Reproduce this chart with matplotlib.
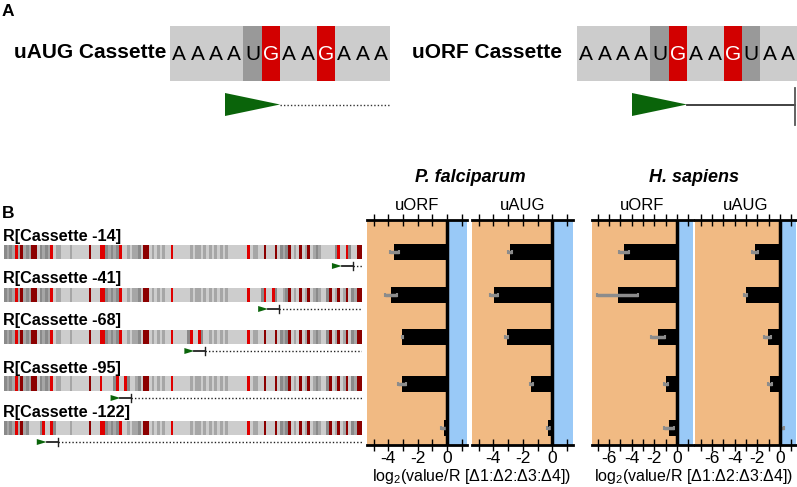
import matplotlib
matplotlib.use('Agg')
import matplotlib.pyplot as plt
import numpy as np
from matplotlib.colors import ListedColormap

plt.rcParams['font.family'] = ['Liberation Sans', 'DejaVu Sans']
plt.rcParams['axes.unicode_minus'] = False
plt.rcParams['mathtext.fontset'] = 'custom'
plt.rcParams['mathtext.rm'] = 'Liberation Sans'

W, H = 797, 487
ORANGE = '#F1BA83'; SKY = '#99C9F7'; GREEN = '#0A640A'; ERR = '#8C8C8C'

# --- panel A data
uaug_seq = 'AAAAUGAAGAAA'
uorf_seq = 'AAAAUGAAGUAA'
nt_colors = {'A': '#CCCCCC', 'U': '#999999', 'G': '#D20000'}

# --- panel B data
row_labels = ['R[Cassette -14]', 'R[Cassette -41]', 'R[Cassette -68]',
              'R[Cassette -95]', 'R[Cassette -122]']
cassette_offsets = [-14, -41, -68, -95, -122]
# native 5'UTR, one code per nt: 0 light grey, 1 mid grey, 2 dark grey, 3 red, 4 dark red
native_codes = ('2121314121' '4402121301' '1000100000' '0400033212' '1230010112'
                '0440101010' '0300000010' '1101010101' '0100000003' '0110040004'
                '0212401040' '1401210024' '0140140214' '4')
cassette_codes = '000023003200'   # AAAAUGAAGUAA
seq_colors = ['#CDCDCD', '#A6A6A6', '#8A8A8A', '#E00000', '#8C0000']

pf_uorf = [-3.6, -3.8, -3.05, -3.07, -0.23]
pf_uorf_err = [0.3, 0.4, 0.05, 0.25, 0.2]
pf_uaug = [-2.87, -3.95, -3.1, -1.42, -0.27]
pf_uaug_err = [0.15, 0.25, 0.12, 0.08, 0.1]
hs_uorf = [-4.7, -5.25, -1.71, -0.97, -0.74]
hs_uorf_err = [0.45, 1.8, 0.6, 0.2, 0.45]
hs_uaug = [-2.2, -3.03, -1.09, -0.88, 0.15]
hs_uaug_err = [0.25, 0.12, 0.3, 0.15, 0.2]

# layout (pixel rows shared by sequences and bars)
row_y = [252, 295, 337, 384, 428]

fig = plt.figure(figsize=(W / 100, H / 100), dpi=100)


def px_axes(x0, y0, x1, y1):
    return fig.add_axes([x0 / W, 1 - y1 / H, (x1 - x0) / W, (y1 - y0) / H])


def ftext(x, y, s, **kw):
    kw.setdefault('va', 'center')
    fig.text(x / W, 1 - y / H, s, **kw)


# ---------------- A
ftext(8, 11, 'A', fontsize=12.5, fontweight='bold', ha='center')
ftext(14, 53, 'uAUG Cassette', fontsize=15, fontweight='bold')
ftext(412, 53, 'uORF Cassette', fontsize=15, fontweight='bold')


def cassette(box, seq):
    ax = px_axes(*box)
    n = len(seq)
    ax.bar(np.arange(n), 55, bottom=26, width=1, align='edge',
           color=[nt_colors[c] for c in seq])
    for i, c in enumerate(seq):
        ax.text(i + 0.5, 54, c, ha='center', va='center', fontsize=15,
                color='white' if c == 'G' else 'black')
    s = seq.find('AUG')
    ax.fill([s, s + 3, s], [93, 104.5, 116], color=GREEN, lw=0)
    stop = seq.find('UAA', s)
    if stop > 0:
        e = stop + 3 - 0.1
        ax.plot([s + 3, e], [104.5, 104.5], color='#333333', lw=1.3)
        ax.plot([e, e], [88, 125], color='#555555', lw=1.3, clip_on=False)
    else:
        ax.plot([s + 3, n], [104.5, 104.5], color='#333333', lw=1, ls=(0, (1, 1.5)))
    ax.set_xlim(0, n); ax.set_ylim(130, 26); ax.axis('off')


cassette((170, 26, 390, 130), uaug_seq)
cassette((577, 26, 797, 130), uorf_seq)

# ---------------- B
ftext(8, 213, 'B', fontsize=12.5, fontweight='bold', ha='center')
native = np.array([int(c) for c in native_codes])
cas = np.array([int(c) for c in cassette_codes])
N = len(native)
axs = px_axes(4, 225, 362, 450)
cmap = ListedColormap(seq_colors)
for lab, off, yc in zip(row_labels, cassette_offsets, row_y):
    s = off + 134          # index of the cassette AUG
    row = native.copy()
    row[s - 3:s - 3 + len(cas)] = cas
    axs.imshow(row[None, :], cmap=cmap, vmin=-0.5, vmax=4.5, aspect='auto',
               interpolation='nearest', extent=(0, N, yc + 7, yc - 7))
    ym = yc + 14
    axs.fill([s, s + 3.6, s], [ym - 3, ym, ym + 3], color=GREEN, lw=0)
    axs.plot([s + 3.6, s + 7.6], [ym, ym], color='#222222', lw=1.3)
    axs.plot([s + 7.6, s + 7.6], [ym - 4, ym + 4], color='#222222', lw=1)
    axs.plot([s + 7.6, N], [ym, ym], color='#222222', lw=1, ls=(0, (1, 1.5)))
    ftext(3, yc - 16, lab, fontsize=11.7, fontweight='bold')
axs.set_xlim(0, N); axs.set_ylim(450, 225); axs.axis('off')


def bar_panel(x0, x1, vals, errs, xlim, title):
    ax = px_axes(x0, 220, x1, 445)
    ax.axvspan(xlim[0], 0, color=ORANGE, lw=0, zorder=0)
    ax.axvspan(0, xlim[1], color=SKY, lw=0, zorder=0)
    ax.barh(row_y, vals, height=16, color='black', zorder=2)
    ax.errorbar(vals, row_y, xerr=errs, fmt='none', ecolor=ERR, elinewidth=2.5,
                capsize=1.5, capthick=1.5, zorder=3)
    ax.axvline(0, color='black', lw=2.5, zorder=4)
    ax.set_xlim(*xlim); ax.set_ylim(445, 220)
    lo = int(np.ceil(xlim[0])); hi = int(np.floor(xlim[1]))
    ax.set_xticks([t for t in range(lo, hi + 1) if t % 2 == 0 and t <= 0])
    ax.set_xticks([t for t in range(lo, hi + 1)], minor=True)
    ax.tick_params(axis='x', which='both', direction='inout', length=8, width=1,
                   top=True, labelsize=12.5, pad=0)
    ax.set_yticks([])
    for sp in ('left', 'right'):
        ax.spines[sp].set_visible(False)
    for sp in ('top', 'bottom'):
        ax.spines[sp].set_linewidth(2)
    ftext((x0 + x1) / 2, 206, title, ha='center', fontsize=12)
    return ax


bar_panel(367, 467, pf_uorf, pf_uorf_err, (-5.45, 1.35), 'uORF')
bar_panel(472, 573, pf_uaug, pf_uaug_err, (-5.45, 1.4), 'uAUG')
bar_panel(592, 693, hs_uorf, hs_uorf_err, (-7.5, 1.4), 'uORF')
bar_panel(695, 796, hs_uaug, hs_uaug_err, (-7.5, 1.4), 'uAUG')

xlab = r'log$_2$(value/R [Δ1:Δ2:Δ3:Δ4])'
ftext(470, 178, 'P. falciparum', ha='center', fontsize=13, fontweight='bold', style='italic')
ftext(694, 178, 'H. sapiens', ha='center', fontsize=13, fontweight='bold', style='italic')
ftext(472, 477, xlab, ha='center', fontsize=11.5)
ftext(694, 477, xlab, ha='center', fontsize=11.5)

fig.savefig('out.png', dpi=100)
